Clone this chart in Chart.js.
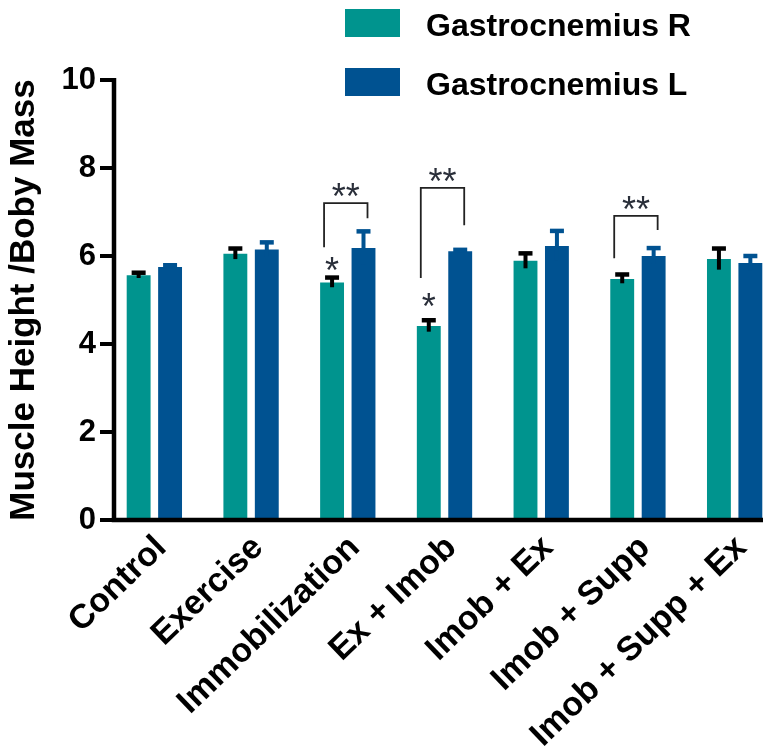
<!DOCTYPE html>
<html><head><meta charset="utf-8">
<script src="https://cdn.jsdelivr.net/npm/chart.js@4.4.1/dist/chart.umd.min.js"></script>
<style>
html,body{margin:0;padding:0;background:#fff;overflow:hidden;width:763px;height:747px;}
#wrap{position:relative;width:790px;height:747px;}
#legend{position:absolute;left:345px;top:9px;font:bold 32px "Liberation Sans",Arial,sans-serif;color:#000;}
.item{position:absolute;left:0;display:flex;align-items:center;white-space:nowrap;height:28px;}
.sw{width:55px;height:28px;margin-right:26px;flex:none;}
.tx{padding-top:4px;line-height:28px;}
</style></head><body>
<div id="wrap"><canvas id="c" width="790" height="747"></canvas><div id="legend"></div></div>
<script>
// ---- data ----
const categories = ['Control', 'Exercise', 'Immobilization', 'Ex + Imob', 'Imob + Ex', 'Imob + Supp', 'Imob + Supp + Ex'];
const seriesNames = ['Gastrocnemius R', 'Gastrocnemius L'];
const gastrocR = [5.56, 6.05, 5.40, 4.41, 5.89, 5.48, 5.93];
const gastrocL = [5.75, 6.15, 6.18, 6.11, 6.23, 6.00, 5.84];
const errorR = [0.06, 0.12, 0.11, 0.13, 0.17, 0.10, 0.24];
const errorL = [0.04, 0.16, 0.38, 0.03, 0.34, 0.18, 0.16];
const yTicks = [0, 2, 4, 6, 8, 10];
const yTitle = 'Muscle Height /Boby Mass';
const bracketCategories = [2, 3, 5];
const bracketTops = [7.2, 7.55, 6.91];
const bracketLeftEnds = [6.2, 5.5, 5.95];
const bracketRightEnds = [6.86, 6.7, 6.59];
const bracketLabels = ['**', '**', '**'];
const starCategories = [2, 3];
const starValues = [5.85, 5.05];
const starLabels = ['*', '*'];

const colorR = '#00948E';
const colorL = '#005291';
const FONT = '"Liberation Sans", Arial, sans-serif';

// legend (HTML text)
const legendEl = document.getElementById('legend');
[colorR, colorL].forEach((c, i) => {
  const it = document.createElement('div');
  it.className = 'item';
  it.style.top = (i * 59) + 'px';
  const sw = document.createElement('div'); sw.className = 'sw'; sw.style.background = c;
  const tx = document.createElement('div'); tx.className = 'tx'; tx.textContent = seriesNames[i];
  it.appendChild(sw); it.appendChild(tx); legendEl.appendChild(it);
});

const errorsByDataset = [errorR, errorL];
const errorColors = ['#000000', colorL];

const errorBarPlugin = {
  id: 'errorBars',
  afterDatasetsDraw(chart) {
    const { ctx, scales: { y } } = chart;
    ctx.save();
    chart.data.datasets.forEach((ds, di) => {
      const meta = chart.getDatasetMeta(di);
      const errs = errorsByDataset[di];
      meta.data.forEach((bar, i) => {
        const v = ds.data[i], e = errs[i];
        const yt = y.getPixelForValue(v + e), yb = y.getPixelForValue(v - e);
        ctx.strokeStyle = errorColors[di];
        ctx.lineWidth = 4;
        ctx.beginPath(); ctx.moveTo(bar.x, yb); ctx.lineTo(bar.x, yt); ctx.stroke();
        ctx.lineWidth = 4.5;
        ctx.beginPath(); ctx.moveTo(bar.x - 7, yt); ctx.lineTo(bar.x + 7, yt); ctx.stroke();
      });
    });
    ctx.restore();
  }
};

const sigPlugin = {
  id: 'significance',
  afterDatasetsDraw(chart) {
    const { ctx, scales: { y } } = chart;
    const m0 = chart.getDatasetMeta(0), m1 = chart.getDatasetMeta(1);
    ctx.save();
    ctx.strokeStyle = '#222';
    ctx.lineWidth = 1.8;
    ctx.fillStyle = '#2a2f3a';
    ctx.font = '36px ' + FONT;
    ctx.textAlign = 'center';
    ctx.textBaseline = 'alphabetic';
    bracketCategories.forEach((c, k) => {
      const xl = m0.data[c].x - 8, xr = m1.data[c].x + 4;
      const yt = y.getPixelForValue(bracketTops[k]);
      ctx.beginPath();
      ctx.moveTo(xl, y.getPixelForValue(bracketLeftEnds[k]));
      ctx.lineTo(xl, yt);
      ctx.lineTo(xr, yt);
      ctx.lineTo(xr, y.getPixelForValue(bracketRightEnds[k]));
      ctx.stroke();
      ctx.fillText(bracketLabels[k], (xl + xr) / 2, yt - 15 + 0.58 * 36);
    });
    starCategories.forEach((c, k) => {
      const yc = y.getPixelForValue(starValues[k]);
      ctx.fillText(starLabels[k], m0.data[c].x, yc + 0.58 * 36);
    });
    ctx.restore();
  }
};

const axisPlugin = {
  id: 'axisLines',
  afterDatasetsDraw(chart) {
    const { ctx, chartArea, scales: { y } } = chart;
    const ax = chartArea.left + 8;
    const y0 = y.getPixelForValue(0);
    const yTop = y.getPixelForValue(yTicks[yTicks.length - 1]);
    ctx.save();
    ctx.strokeStyle = '#000';
    ctx.lineWidth = 4.5;
    ctx.beginPath(); ctx.moveTo(ax, yTop - 2); ctx.lineTo(ax, y0); ctx.stroke();
    ctx.beginPath(); ctx.moveTo(ax - 2.25, y0); ctx.lineTo(chart.width, y0); ctx.stroke();
    ctx.lineWidth = 4;
    y.ticks.forEach(t => {
      const py = y.getPixelForValue(t.value);
      ctx.beginPath(); ctx.moveTo(ax - 14, py); ctx.lineTo(ax, py); ctx.stroke();
    });
    ctx.restore();
  }
};

new Chart(document.getElementById('c'), {
  type: 'bar',
  data: {
    labels: categories,
    datasets: [
      { label: seriesNames[0], data: gastrocR, backgroundColor: colorR, categoryPercentage: 0.65, barPercentage: 0.76 },
      { label: seriesNames[1], data: gastrocL, backgroundColor: colorL, categoryPercentage: 0.65, barPercentage: 0.76 }
    ]
  },
  options: {
    responsive: false,
    animation: false,
    devicePixelRatio: 1,
    layout: { padding: { top: 80, right: 7, bottom: 0, left: 0 } },
    plugins: { legend: { display: false }, tooltip: { enabled: false } },
    scales: {
      x: {
        grid: { display: false, drawTicks: false },
        border: { display: false },
        ticks: { color: '#000', font: { family: FONT, size: 34, weight: 'bold' }, minRotation: 44, maxRotation: 44, padding: 8, labelOffset: 7, autoSkip: false },
        afterFit(s) { s.height = 227; }
      },
      y: {
        min: 0, max: 10,
        afterBuildTicks(s) { s.ticks = yTicks.map(v => ({ value: v })); },
        grid: { display: false, drawTicks: false },
        border: { display: false },
        ticks: { color: '#000', font: { family: FONT, size: 31, weight: 'bold' }, padding: 10 },
        title: { display: true, text: yTitle, color: '#000', font: { family: FONT, size: 35, weight: 'bold' }, padding: { top: 3, bottom: 0 } },
        afterFit(s) { s.width = 106; }
      }
    }
  },
  plugins: [errorBarPlugin, axisPlugin, sigPlugin]
});
</script>
</body></html>
